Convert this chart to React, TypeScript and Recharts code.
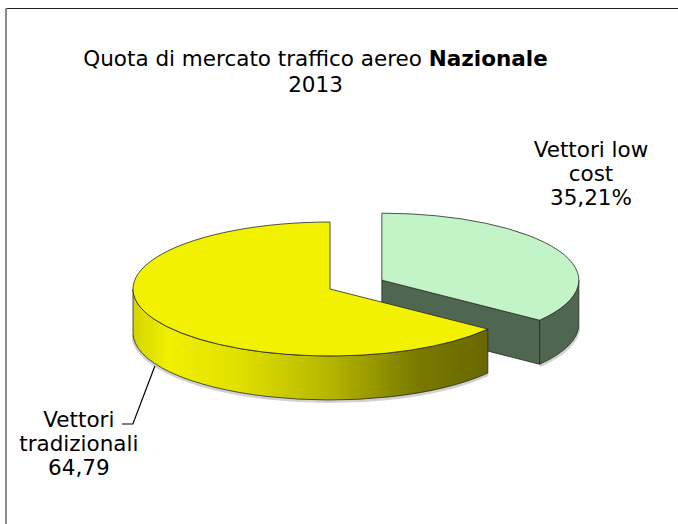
import React from 'react';
import { PieChart, Pie } from 'recharts';

// market share, domestic air traffic 2013
const categories = ['Vettori low cost', 'Vettori tradizionali'];
const shares = [35.21, 64.79];
const labelLines = [
  ['Vettori low', 'cost', '35,21%'],
  ['Vettori', 'tradizionali', '64,79'],
];
const topColors = ['#c2f4c8', '#f2f200'];
const exploded = [true, false];

const data = categories.map((name, idx) => ({ name, value: shares[idx], idx }));

const TILT = 0.34;
const DEPTH = 44;
const EXPLODE = 58;
const RAD = Math.PI / 180;
const FONT = '"DejaVu Sans", Verdana, sans-serif';
const FONT_SIZE = 21.5;

function pt(cx: number, cy: number, rx: number, a: number): [number, number] {
  return [cx + rx * Math.cos(a * RAD), cy - rx * TILT * Math.sin(a * RAD)];
}

function shift(midAngle: number, on: boolean): [number, number] {
  if (!on) return [0, 0];
  return [EXPLODE * Math.cos(midAngle * RAD), -EXPLODE * TILT * Math.sin(midAngle * RAD)];
}

// parts of [lo, hi] that face the viewer (lower half of the ellipse)
function frontParts(lo: number, hi: number) {
  const parts: [number, number][] = [];
  for (let k = -2; k <= 1; k++) {
    const a = Math.max(lo, -180 + 360 * k);
    const b = Math.min(hi, 360 * k);
    if (b - a > 0.01) parts.push([a, b]);
  }
  return parts;
}

function SideGradient({ id, idx, x1, x2 }: { id: string; idx: number; x1: number; x2: number }) {
  if (idx === 0) {
    return (
      <linearGradient id={id} gradientUnits="userSpaceOnUse" x1={x1} y1={0} x2={x2} y2={0}>
        <stop offset="0" stopColor="#4f6651" />
        <stop offset="1" stopColor="#4f6651" />
      </linearGradient>
    );
  }
  return (
    <linearGradient id={id} gradientUnits="userSpaceOnUse" x1={x1} y1={0} x2={x2} y2={0}>
      <stop offset="0" stopColor="#d4d400" />
      <stop offset="0.1" stopColor="#f0f000" />
      <stop offset="0.3" stopColor="#e0e000" />
      <stop offset="0.55" stopColor="#b6b600" />
      <stop offset="0.8" stopColor="#7a7a00" />
      <stop offset="1" stopColor="#686800" />
    </linearGradient>
  );
}

function Slice3D(props: any) {
  const { outerRadius: rx, startAngle, endAngle, midAngle, payload } = props;
  const idx = payload?.idx ?? props.idx ?? 0;
  const [dx, dy] = shift(midAngle, exploded[idx]);
  const cx = props.cx + dx;
  const cy = props.cy + dy;
  const ry = rx * TILT;
  const s = startAngle;
  const e = endAngle;
  const lo = Math.min(s, e);
  const hi = Math.max(s, e);
  const large = hi - lo > 180 ? 1 : 0;
  const edge = { stroke: '#262626', strokeWidth: 0.8, strokeLinejoin: 'round' as const };
  const gid = `side-${idx}`;
  const side = `url(#${gid})`;

  const [sx, sy] = pt(cx, cy, rx, s);
  const [ex, ey] = pt(cx, cy, rx, e);
  const top = `M${cx},${cy} L${sx},${sy} A${rx},${ry} 0 ${large} 1 ${ex},${ey} Z`;

  const faces: React.ReactNode[] = [];
  if (Math.cos(e * RAD) > 0.001) {
    faces.push(
      <path key="fe" d={`M${cx},${cy} L${ex},${ey} L${ex},${ey + DEPTH} L${cx},${cy + DEPTH} Z`}
        fill={side} {...edge} />
    );
  }
  if (Math.cos(s * RAD) < -0.001) {
    faces.push(
      <path key="fs" d={`M${cx},${cy} L${sx},${sy} L${sx},${sy + DEPTH} L${cx},${cy + DEPTH} Z`}
        fill={side} {...edge} />
    );
  }

  let minX = Infinity;
  let maxX = -Infinity;
  const shadows: React.ReactNode[] = [];
  const walls = frontParts(lo, hi).map(([a, b], k) => {
    const [x1, y1] = pt(cx, cy, rx, b);
    const [x2, y2] = pt(cx, cy, rx, a);
    minX = Math.min(minX, x1, x2);
    maxX = Math.max(maxX, x1, x2);
    const bottom = `M${x1},${y1 + DEPTH} A${rx},${ry} 0 0 1 ${x2},${y2 + DEPTH}`;
    shadows.push(
      <path key={`s${k}`} d={bottom} fill="none" stroke="#9a9a9a" strokeOpacity={0.45}
        strokeWidth={3} transform="translate(0,1.5)" />
    );
    const d = `M${x1},${y1} A${rx},${ry} 0 0 1 ${x2},${y2} L${x2},${y2 + DEPTH} A${rx},${ry} 0 0 0 ${x1},${y1 + DEPTH} Z`;
    return <path key={`w${k}`} d={d} fill={side} {...edge} />;
  });
  if (!isFinite(minX)) {
    minX = cx - rx;
    maxX = cx + rx;
  }

  return (
    <g>
      <defs>
        <SideGradient id={gid} idx={idx} x1={minX} x2={maxX} />
      </defs>
      {shadows}
      {faces}
      {walls}
      <path d={top} fill={topColors[idx]} {...edge} />
    </g>
  );
}

function renderLabel(props: any) {
  const { cx, cy, midAngle, outerRadius: rx, index } = props;
  const [dx, dy] = shift(midAngle, exploded[index]);
  const [ax, ay] = pt(cx + dx, cy + dy, rx, midAngle);
  const lines = labelLines[index];
  const textStyle = { fontFamily: FONT, fontSize: FONT_SIZE, fill: '#000' };
  if (index === 0) {
    return (
      <text x={ax + 33} y={ay - 93} textAnchor="middle" style={textStyle}>
        {lines.map((l, k) => (
          <tspan key={k} x={ax + 33} dy={k === 0 ? 0 : 24}>{l}</tspan>
        ))}
      </text>
    );
  }
  const by = ay + DEPTH;
  return (
    <g>
      <polyline points={`${ax + 1},${by + 3} ${ax - 21},${by + 61} ${ax - 32},${by + 61}`}
        fill="none" stroke="#000" strokeWidth={1.2} />
      <text x={ax - 75} y={by + 64} textAnchor="middle" style={textStyle}>
        {lines.map((l, k) => (
          <tspan key={k} x={ax - 75} dy={k === 0 ? 0 : 24}>{l}</tspan>
        ))}
      </text>
    </g>
  );
}

export default function App() {
  return (
    <div style={{ position: 'absolute', left: 0, top: 0, width: 678, height: 524, background: '#fff', overflow: 'hidden' }}>
      <div style={{ position: 'absolute', left: 7, top: 8, width: 671, height: 1, background: '#1e1e1e' }} />
      <div style={{ position: 'absolute', left: 5, top: 8, width: 2, height: 516, background: '#8c8c8c' }} />
      <div style={{
        position: 'absolute', left: 0, top: 46, width: 631, textAlign: 'center',
        fontFamily: FONT, fontSize: FONT_SIZE, lineHeight: '26px', color: '#000'
      }}>
        Quota di mercato traffico aereo <b>Nazionale</b>
        <br />
        2013
      </div>
      <PieChart width={678} height={524} margin={{ top: 0, right: 0, bottom: 0, left: 0 }}
        style={{ position: 'absolute', left: 0, top: 0 }}>
        <Pie
          data={data}
          dataKey="value"
          nameKey="name"
          cx={330}
          cy={289}
          outerRadius={197}
          startAngle={90}
          endAngle={-270}
          stroke="none"
          shape={Slice3D}
          label={renderLabel}
          labelLine={false}
          isAnimationActive={false}
        />
      </PieChart>
    </div>
  );
}
